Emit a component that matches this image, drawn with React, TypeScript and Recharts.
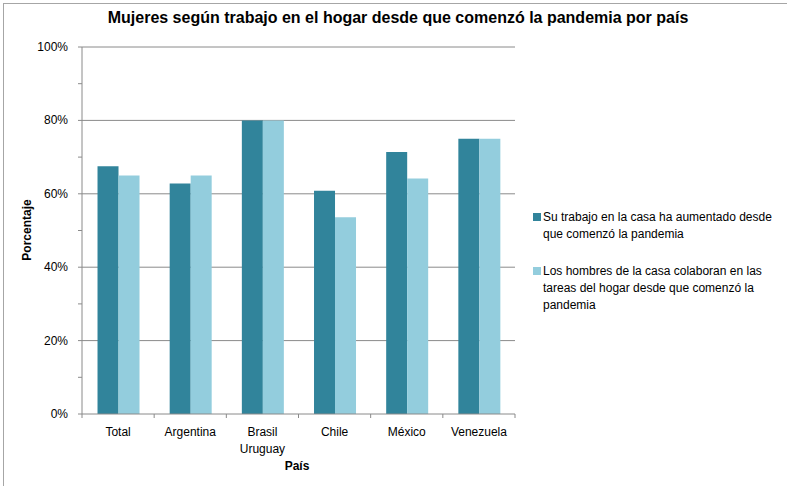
import { BarChart, Bar, XAxis, YAxis, CartesianGrid } from 'recharts';

const paises = ['Total', 'Argentina', 'Brasil\nUruguay', 'Chile', 'México', 'Venezuela'];
const aumentado = [67.5, 62.8, 80, 60.8, 71.4, 75];
const colaboran = [65, 65, 80, 53.6, 64.2, 75];
const yTicks = [0, 10, 20, 30, 40, 50, 60, 70, 80, 90, 100];
const gridValues = [20, 40, 60, 80, 100];

const serieA = 'Su trabajo en la casa ha aumentado desde que comenzó la pandemia';
const serieB = 'Los hombres de la casa colaboran en las tareas del hogar desde que comenzó la pandemia';

const data = paises.map((p, i) => ({ pais: p, a: aumentado[i], b: colaboran[i] }));

const font = '"Liberation Sans", Arial, sans-serif';
const dark = '#31849b';
const light = '#93cddd';
const axisGray = '#8a8a8a';
const BAND = 433 / paises.length;

function XTick(props: any) {
  const { x, y, payload, index } = props;
  const lines = String(payload.value).split('\n');
  return (
    <g>
      <line x1={x - BAND / 2} x2={x - BAND / 2} y1={y} y2={y + 4} stroke={axisGray} />
      {index === paises.length - 1 && (
        <line x1={x + BAND / 2} x2={x + BAND / 2} y1={y} y2={y + 4} stroke={axisGray} />
      )}
      <text x={x} y={y + 22} textAnchor="middle" fontSize={12} fill="#000" fontFamily={font}>
        {lines.map((l, i) => (
          <tspan key={i} x={x} dy={i === 0 ? 0 : 17}>{l}</tspan>
        ))}
      </text>
    </g>
  );
}

function YTick(props: any) {
  const { x, y, payload } = props;
  if (payload.value % 20 !== 0) return <g />;
  return (
    <text x={x - 4} y={y + 4} textAnchor="end" fontSize={12} fill="#000" fontFamily={font}>
      {payload.value}%
    </text>
  );
}

export default function App() {
  return (
    <div style={{ position: 'absolute', left: 0, top: 0, width: 787, height: 486, background: '#fff', fontFamily: font, overflow: 'hidden' }}>
      <div style={{ position: 'absolute', left: 3, top: 3, width: 900, height: 600, borderLeft: '1px solid #a6a6a6', borderTop: '1px solid #a6a6a6' }} />
      <div style={{ position: 'absolute', left: 0, width: 796, top: 9, textAlign: 'center', fontWeight: 'bold', fontSize: 16 }}>
        Mujeres según trabajo en el hogar desde que comenzó la pandemia por país
      </div>
      <BarChart
        width={787}
        height={486}
        data={data}
        margin={{ top: 47, right: 272, bottom: 0, left: 0 }}
        barCategoryGap="21.5%"
        barGap={0}
      >
        <CartesianGrid vertical={false} horizontalValues={gridValues} stroke={axisGray} />
        <XAxis
          dataKey="pais"
          height={72}
          tickLine={false}
          tickSize={0}
          tickMargin={0}
          interval={0}
          stroke={axisGray}
          tick={<XTick />}
        />
        <YAxis
          width={82}
          domain={[0, 100]}
          ticks={yTicks}
          interval={0}
          tickSize={4}
          tickMargin={6}
          stroke={axisGray}
          tick={<YTick />}
        />
        <Bar dataKey="a" name={serieA} fill={dark} isAnimationActive={false} />
        <Bar dataKey="b" name={serieB} fill={light} isAnimationActive={false} />
      </BarChart>
      <div style={{ position: 'absolute', left: 27, top: 230, transform: 'translate(-50%, -50%) rotate(-90deg)', fontWeight: 'bold', fontSize: 12, whiteSpace: 'nowrap' }}>
        Porcentaje
      </div>
      <div style={{ position: 'absolute', left: 297, top: 466, transform: 'translate(-50%, -50%)', fontWeight: 'bold', fontSize: 12 }}>
        País
      </div>
      <div style={{ position: 'absolute', left: 533, top: 209, width: 252, fontSize: 12, lineHeight: '17px' }}>
        {[{ c: dark, t: serieA }, { c: light, t: serieB }].map((s, i) => (
          <div key={i} style={{ display: 'flex', alignItems: 'flex-start', marginBottom: i === 0 ? 20 : 0 }}>
            <span style={{ width: 8, height: 8, background: s.c, marginTop: 4, marginRight: 2, flexShrink: 0 }} />
            <span>{s.t}</span>
          </div>
        ))}
      </div>
    </div>
  );
}
